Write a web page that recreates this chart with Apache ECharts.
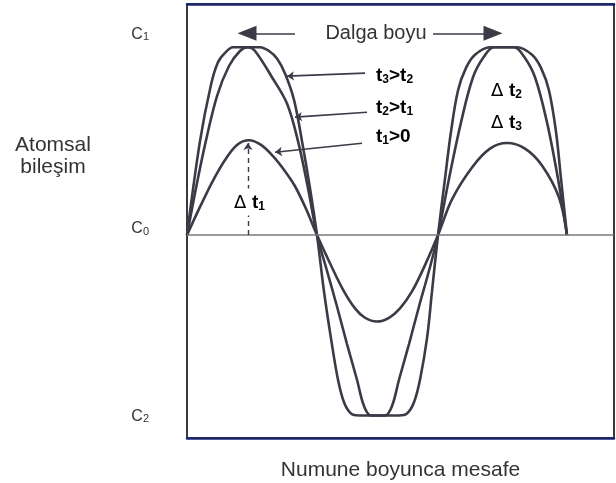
<!DOCTYPE html>
<html>
<head>
<meta charset="utf-8">
<script src="https://cdn.jsdelivr.net/npm/echarts@6/dist/echarts.min.js"></script>
<style>
html,body{margin:0;padding:0;background:#fff;}
#chart{width:616px;height:483px;}
</style>
</head>
<body>
<div id="chart"></div>
<script>
// distance along the sample (arbitrary units) and composition relative to C0 (C1 = 1)
const t1Data = [[0,0],[13,0.15],[26,0.29],[38,0.40],[50,0.48],[62,0.505],[74,0.48],[86,0.42],[98,0.34],[108,0.26],[119,0.14],[130,0],
  [143,-0.15],[156,-0.29],[168,-0.39],[178,-0.44],[190,-0.46],[202,-0.44],[213,-0.39],[225,-0.30],[238,-0.16],[251,0],
  [265,0.19],[285,0.36],[303,0.46],[320,0.49],[338,0.46],[355,0.37],[372,0.2],[380,0]];
const t2Data = [[0,0],[9,0.25],[18,0.48],[30,0.74],[42,0.9],[53,0.98],[61,1],[68,0.98],[85,0.84],[100,0.7],[111,0.5],[121,0.25],[130,0],
  [140,-0.19],[150,-0.38],[160,-0.58],[170,-0.77],[177,-0.91],[184,-0.96],[198,-0.96],[205,-0.91],[212,-0.77],[222,-0.58],[232,-0.38],[242,-0.19],[251,0],
  [262,0.3],[274,0.6],[286,0.84],[297,0.95],[307,1],[327,1],[337,0.95],[348,0.84],[360,0.6],[371,0.3],[380,0]];
const t3Data = [[0,0],[13,0.5],[24,0.8],[31,0.92],[38,0.97],[46,1],[73,1],[82,0.98],[90,0.94],[98,0.86],[107,0.72],[115,0.5],[123,0.25],[130,0],
  [137,-0.3],[144,-0.55],[151,-0.77],[157,-0.89],[164,-0.95],[172,-0.96],[212,-0.96],[220,-0.95],[227,-0.89],[233,-0.77],[240,-0.55],[245,-0.3],[251,0],
  [258,0.3],[264,0.55],[271,0.77],[279,0.89],[288,0.96],[303,1],[330,1],[345,0.96],[354,0.89],[362,0.77],[369,0.55],[374,0.3],[380,0]];
const yTickValues = [1, 0, -0.96];
const yTickNames = ['1', '0', '2'];   // C subscripts: C1, C0, C2
const xAxisTitle = 'Numune boyunca mesafe';
const yAxisTitle = 'Atomsal\nbileşim';
const waveLabel = 'Dalga boyu';

const ink = '#3b3b47';
const txt = '#333333';
const chart = echarts.init(document.getElementById('chart'));

function subRich(size, sub, pad) {
  return {
    c: {fontSize: size, lineHeight: size + 2, color: txt, fontFamily: 'Liberation Sans', padding: pad, verticalAlign: 'bottom'},
    s: {fontSize: sub, lineHeight: 10, color: txt, fontFamily: 'Liberation Sans', padding: pad, verticalAlign: 'bottom'}
  };
}
const r1 = subRich(16, 11, [0,0,14,0]);
const r0 = subRich(16, 11, [0,0,7,0]);
const r2 = subRich(16, 11, [4,0,0,0]);

const boldRich = {
  b: {fontSize: 19, fontWeight: 'bold', lineHeight: 21, color: txt, fontFamily: 'Liberation Sans', verticalAlign: 'bottom'},
  s: {fontSize: 12, fontWeight: 'bold', lineHeight: 10, color: txt, fontFamily: 'Liberation Sans', verticalAlign: 'bottom'},
  d: {fontSize: 18, lineHeight: 21, color: txt, fontFamily: 'DejaVu Sans', verticalAlign: 'bottom'}
};

function lineSeries(name, data, extra) {
  return Object.assign({
    name: name, type: 'line', data: data, smooth: 0.35, symbol: 'none',
    lineStyle: {color: ink, width: 2.6}, z: 3, silent: true
  }, extra || {});
}

const bigHead = {symbol: 'triangle', symbolSize: [15, 19]};
const annot = {
  type: 'line', data: [], silent: true,
  markLine: {
    silent: true, animation: false,
    label: {show: false},
    lineStyle: {color: ink, width: 1.6, type: 'solid'},
    symbol: ['none', 'arrow'], symbolSize: 7,
    data: [
      [{coord: [178, 0.862]}, {coord: [100, 0.846]}],
      [{coord: [180, 0.654]}, {coord: [108, 0.628]}],
      [{coord: [175, 0.489]}, {coord: [88, 0.441]}],
      [{coord: [108, 1.074], symbol: 'none'}, Object.assign({coord: [60, 1.074]}, bigHead)],
      [{coord: [246, 1.074], symbol: 'none'}, Object.assign({coord: [306, 1.074]}, bigHead)],
      [{coord: [61, 0], lineStyle: {type: [5, 4], width: 1.4}}, {coord: [61, 0.49]}]
    ]
  }
};

const c0Line = {
  markLine: {
    silent: true, animation: false, symbol: ['none', 'none'],
    label: {show: false},
    lineStyle: {color: '#7a7a7a', width: 1.6, type: 'solid'},
    data: [{yAxis: 0}]
  }
};

const option = {
  animation: false,
  backgroundColor: '#ffffff',
  grid: {left: 187, right: 2, top: 4, bottom: 45, show: true, borderColor: '#3a3a3a', borderWidth: 2, outerBoundsMode: 'none', containLabel: false},
  xAxis: [{
    type: 'value', min: 0, max: 427, position: 'bottom',
    axisLine: {show: true, onZero: false, lineStyle: {color: '#1d2470', width: 2.5}},
    axisTick: {show: false}, axisLabel: {show: false}, splitLine: {show: false},
    name: xAxisTitle, nameLocation: 'middle', nameGap: 22,
    nameTextStyle: {fontSize: 21, color: txt, fontFamily: 'Liberation Sans'}
  }, {
    type: 'value', min: 0, max: 427, position: 'top',
    axisLine: {show: true, onZero: false, lineStyle: {color: '#1d2470', width: 2.5}},
    axisTick: {show: false}, axisLabel: {show: false}, splitLine: {show: false}
  }],
  yAxis: {
    type: 'value', min: -1.08, max: 1.23,
    axisLine: {show: false}, axisTick: {show: false}, splitLine: {show: false},
    axisLabel: {
      customValues: yTickValues, margin: 38, align: 'right',
      formatter: function (v) {
        const i = yTickValues.indexOf(v);
        const k = i === 0 ? 'a' : (i === 1 ? 'b' : 'c');
        return '{' + k + 'c|C}{' + k + 's|' + yTickNames[i] + '}';
      },
      rich: {ac: r1.c, as: r1.s, bc: r0.c, bs: r0.s, cc: r2.c, cs: r2.s}
    }
  },
  graphic: [
    {type: 'text', x: 53, y: 156, style: {text: yAxisTitle, fontSize: 21, lineHeight: 22, fill: txt, fontFamily: 'Liberation Sans', align: 'center', verticalAlign: 'middle'}},
    {type: 'text', x: 376, y: 33, style: {text: waveLabel, fontSize: 20, fill: txt, fontFamily: 'Liberation Sans', align: 'center', verticalAlign: 'middle'}},
    {type: 'text', x: 376, y: 75, style: {text: '{b|t}{s|3}{b|>t}{s|2}', rich: boldRich, align: 'left', verticalAlign: 'middle'}},
    {type: 'text', x: 376, y: 107, style: {text: '{b|t}{s|2}{b|>t}{s|1}', rich: boldRich, align: 'left', verticalAlign: 'middle'}},
    {type: 'text', x: 376, y: 136, style: {text: '{b|t}{s|1}{b|>0}', rich: boldRich, align: 'left', verticalAlign: 'middle'}},
    {type: 'text', x: 491, y: 90, style: {text: '{d|Δ }{b|t}{s|2}', rich: boldRich, align: 'left', verticalAlign: 'middle'}},
    {type: 'text', x: 491, y: 122, style: {text: '{d|Δ }{b|t}{s|3}', rich: boldRich, align: 'left', verticalAlign: 'middle'}},
    {type: 'text', x: 232, y: 202, z: 10, style: {text: '{d|Δ }{b|t}{s|1}', rich: boldRich, align: 'left', verticalAlign: 'middle', backgroundColor: '#ffffff', padding: [3, 2, 3, 2]}}
  ],
  series: [
    lineSeries('t1', t1Data, c0Line),
    lineSeries('t2', t2Data),
    lineSeries('t3', t3Data),
    annot
  ]
};
chart.setOption(option);
</script>
</body>
</html>
